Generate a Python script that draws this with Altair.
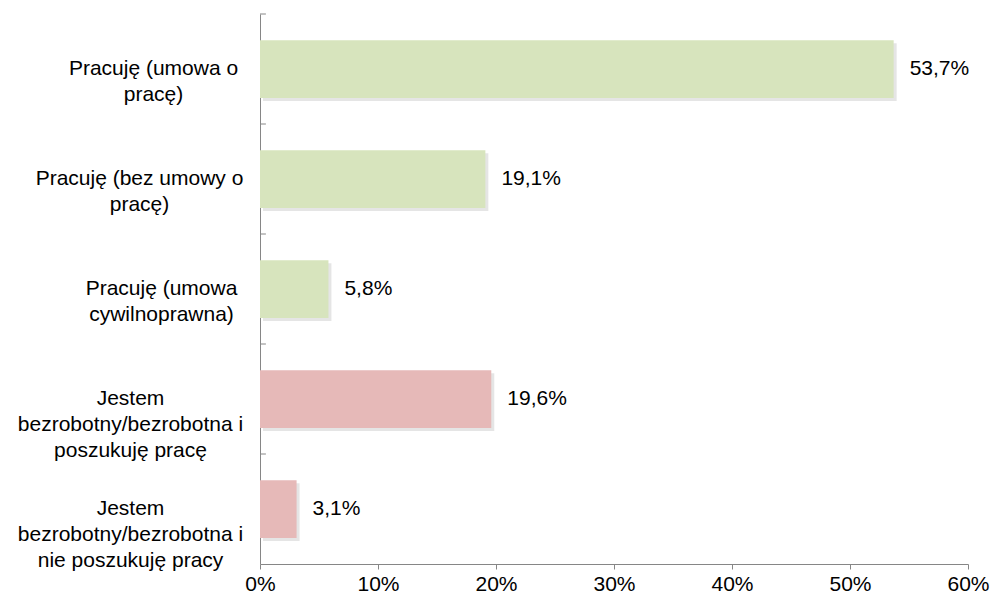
import altair as alt
import pandas as pd

categories = [
    "Pracuję (umowa o|pracę)",
    "Pracuję (bez umowy o|pracę)",
    "Pracuję (umowa|cywilnoprawna)",
    "Jestem|bezrobotny/bezrobotna i|poszukuję pracę",
    "Jestem|bezrobotny/bezrobotna i|nie poszukuję pracy",
]
values = [53.7, 19.1, 5.8, 19.6, 3.1]
groups = ["praca", "praca", "praca", "bezrobocie", "bezrobocie"]

group_domain = ["praca", "bezrobocie"]
group_colors = ["#d7e4bd", "#e6b9b8"]

df = pd.DataFrame({"cat": categories, "v": values, "g": groups})

FONT = "Liberation Sans"
AXIS_GREY = "#868686"
FS = 21

# per-label distance from the axis to the centre of the (centred) label block
pad_cond = [
    {"test": f"datum.value == '{categories[0]}'", "value": 107},
    {"test": f"datum.value == '{categories[1]}'", "value": 121},
    {"test": f"datum.value == '{categories[2]}'", "value": 99},
]

y_enc = alt.Y(
    "cat:N",
    sort=categories,
    scale=alt.Scale(paddingInner=0, paddingOuter=0),
    axis=alt.Axis(
        title=None,
        ticks=False,
        domainColor=AXIS_GREY,
        labelAlign="center",
        labelBaseline="middle",
        labelExpr="split(datum.label, '|')",
        labelLineHeight=26,
        labelFontSize=FS,
        labelFont=FONT,
        labelColor="#000000",
        labelLimit=0,
        labelPadding={"condition": pad_cond, "value": 130},
    ),
)

x_enc = alt.X(
    "v:Q",
    scale=alt.Scale(domain=[0, 60], nice=False),
    axis=alt.Axis(
        title=None,
        values=[0, 10, 20, 30, 40, 50, 60],
        labelExpr="datum.value + '%'",
        labelFlush=False,
        grid=False,
        tickSize=5,
        tickColor=AXIS_GREY,
        domainColor=AXIS_GREY,
        labelFontSize=FS,
        labelFont=FONT,
        labelColor="#000000",
        labelPadding=4,
    ),
)

base = alt.Chart(df)

shadow = base.mark_bar(
    height=alt.RelativeBandSize(0.525),
    color="#000000",
    opacity=0.10,
    xOffset=3,
    x2Offset=3,
    yOffset=3,
    y2Offset=3,
).encode(x=x_enc, y=y_enc)

bars = base.mark_bar(height=alt.RelativeBandSize(0.525)).encode(
    x=x_enc,
    y=y_enc,
    color=alt.Color(
        "g:N",
        scale=alt.Scale(domain=group_domain, range=group_colors),
        legend=None,
    ),
)

ticks = base.mark_rule(color=AXIS_GREY, strokeWidth=1).encode(
    y=alt.Y("cat:N", sort=categories, bandPosition=0),
    x=alt.datum(0),
    x2=alt.datum(0.5),
)

labels = base.transform_calculate(
    lbl="replace(format(datum.v, '.1f'), '.', ',') + '%'"
).mark_text(
    align="left", baseline="middle", dx=16, fontSize=FS, font=FONT, color="#000000"
).encode(x="v:Q", y=alt.Y("cat:N", sort=categories), text="lbl:N")

chart = (
    alt.layer(shadow, bars, ticks, labels)
    .properties(
        width=708,
        height=550,
        autosize=alt.AutoSizeParams(type="none"),
        padding={"left": 252, "top": 6, "right": 24, "bottom": 33},
        background="#ffffff",
    )
    .configure_view(stroke=None)
)

chart.save("out.html", embed_options={"renderer": "svg", "actions": False})
